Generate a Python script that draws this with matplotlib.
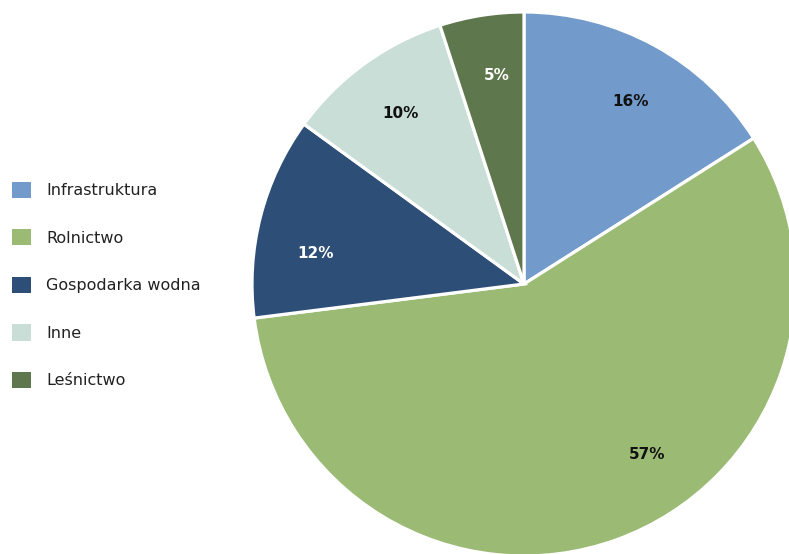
import numpy as np
import matplotlib.pyplot as plt
from matplotlib.patches import Patch

labels = ['Infrastruktura', 'Rolnictwo', 'Gospodarka wodna', 'Inne', 'Leśnictwo']
shares = [16, 57, 12, 10, 5]
colors = ['#729BCB', '#9BBB75', '#2D4E76', '#C9DED6', '#5E774D']
text_colors = ['#111111', '#111111', '#FFFFFF', '#111111', '#FFFFFF']
# extra rotation of each percentage label around the centre (deg)
label_shift = [-1.5, 16, 6, 0, -1.5]

plt.rcParams['font.family'] = ['DejaVu Sans']

W, H = 789, 554
fig = plt.figure(figsize=(W / 100, H / 100), dpi=100)

# pie: centre (524, 284) px, radius 272 px, runs past the right and bottom edges
cx, cy, r = 524, 284, 272
ax = fig.add_axes([(cx - r) / W, (H - cy - r) / H, 2 * r / W, 2 * r / H])
wedges, _ = ax.pie(shares, colors=colors, startangle=90, counterclock=False,
                   wedgeprops=dict(edgecolor='white', linewidth=2.3))
ax.set_xlim(-1, 1)
ax.set_ylim(-1, 1)

for w, v, tc, sh in zip(wedges, shares, text_colors, label_shift):
    mid = np.deg2rad((w.theta1 + w.theta2) / 2 + sh)
    ax.text(0.775 * np.cos(mid), 0.775 * np.sin(mid), f'{v}%', color=tc,
            fontsize=11, fontweight='bold', ha='center', va='center')

handles = [Patch(facecolor=c, edgecolor='none') for c in colors]
fig.legend(handles, labels, loc='center left', bbox_to_anchor=(12 / W, (H - 285) / H),
           frameon=False, fontsize=11.5, handlelength=1.18, handleheight=1.18,
           handletextpad=0.95, labelspacing=1.95, borderpad=0, borderaxespad=0,
           labelcolor='#222222')

fig.savefig('out.png', dpi=100)
